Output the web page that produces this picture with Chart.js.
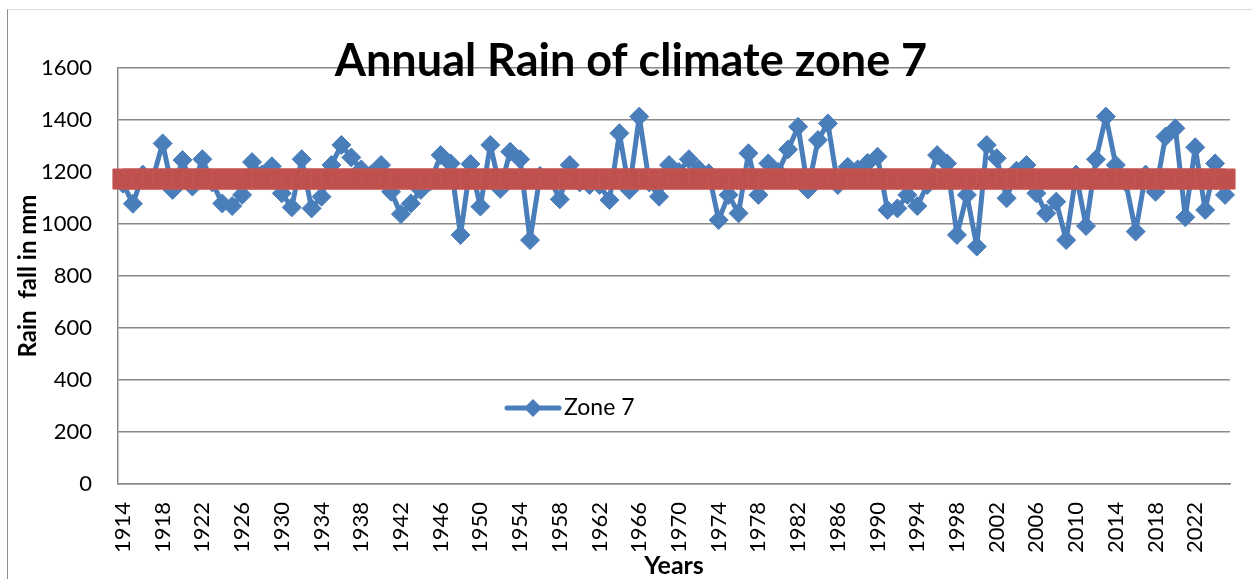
<!DOCTYPE html>
<html>
<head>
<meta charset="utf-8">
<title>Annual Rain of climate zone 7</title>
<script src="https://cdn.jsdelivr.net/npm/chart.js@4.4.1/dist/chart.umd.min.js"></script>
<style>
  html, body { margin: 0; padding: 0; background: #fff; }
  #wrap { position: relative; width: 1252px; height: 579px; overflow: hidden; }
  #frame { position: absolute; left: 7px; top: 9px; right: -2px; bottom: -2px;
           border-left: 1px solid #8c8c8c; border-top: 1px solid #dcdcdc; pointer-events: none; }
  canvas { position: absolute; left: 0; top: 0; }
</style>
</head>
<body>
<div id="wrap">
  <canvas id="rainChart" width="1252" height="579"></canvas>
  <div id="frame"></div>
</div>
<script>
// --- Data ---
const years = [
  '1914','1915','1916','1917','1918','1919','1920','1921','1922','1923',
  '1924','1925','1926','1927','1928','1929','1930','1931','1932','1933',
  '1934','1935','1936','1937','1938','1939','1940','1941','1942','1943',
  '1944','1945','1946','1947','1948','1949','1950','1951','1952','1953',
  '1954','1955','1956','1957','1958','1959','1960','1961','1962','1963',
  '1964','1965','1966','1967','1968','1969','1970','1971','1972','1973',
  '1974','1975','1976','1977','1978','1979','1980','1981','1982','1983',
  '1984','1985','1986','1987','1988','1989','1990','1991','1992','1993',
  '1994','1995','1996','1997','1998','1999','2000','2001','2002','2003',
  '2004','2005','2006','2007','2008','2009','2010','2011','2012','2013',
  '2014','2015','2016','2017','2018','2019','2020','2021','2022','2023',
  '2024','2025'
];

const zone7Rain = [
  1155, 1078, 1190, 1175, 1310, 1131, 1246, 1144, 1249, 1160,
  1079, 1069, 1112, 1238, 1190, 1222, 1118, 1064, 1249, 1060,
  1105, 1227, 1304, 1256, 1210, 1190, 1227, 1124, 1038, 1079,
  1131, 1165, 1265, 1233,  958, 1231, 1067, 1304, 1135, 1278,
  1249,  938, 1185, 1175, 1095, 1227, 1160, 1150, 1150, 1092,
  1349, 1131, 1413, 1160, 1105, 1227, 1200, 1249, 1210, 1195,
  1015, 1112, 1041, 1272, 1112, 1233, 1200, 1287, 1374, 1133,
  1323, 1387, 1150, 1220, 1210, 1235, 1259, 1054, 1060, 1112,
  1069, 1150, 1265, 1233,  958, 1112,  913, 1304, 1253, 1099,
  1205, 1227, 1118, 1041, 1086,  938, 1190,  992, 1249, 1413,
  1227, 1160,  971, 1190, 1124, 1336, 1368, 1026, 1295, 1054,
  1233, 1112
];

// long-term average drawn as the thick red band
const meanRain = 1173;
const meanLine = years.map(() => meanRain);

const yTicks = { min: 0, max: 1600, step: 200 };

const BLUE = '#4A7EBB';
const RED = '#C0504D';
const GRID = '#898989';

// --- Text overlays: title, axis titles, inner legend ---
const overlay = {
  id: 'overlay',
  afterDraw(chart) {
    const ctx = chart.ctx;
    const area = chart.chartArea;
    ctx.save();
    ctx.fillStyle = '#000';

    // title
    ctx.font = 'bold 45px Lato';
    ctx.textAlign = 'center';
    ctx.textBaseline = 'alphabetic';
    ctx.fillText('Annual Rain of climate zone 7', 631, 76);

    // x axis title
    ctx.font = 'bold 25px Lato';
    ctx.fillText('Years', (area.left + area.right) / 2, 574);

    // y axis title
    ctx.save();
    ctx.translate(36, (area.top + area.bottom) / 2);
    ctx.rotate(-Math.PI / 2);
    ctx.font = 'bold 24px Lato';
    ctx.fillText('Rain  fall in mm', 0, 0);
    ctx.restore();

    // legend inside the plot
    const ly = 408;
    ctx.strokeStyle = BLUE;
    ctx.lineWidth = 5;
    ctx.lineCap = 'round';
    ctx.beginPath();
    ctx.moveTo(507, ly);
    ctx.lineTo(559, ly);
    ctx.stroke();
    ctx.fillStyle = BLUE;
    ctx.beginPath();
    ctx.moveTo(533 - 9, ly);
    ctx.lineTo(533, ly - 9);
    ctx.lineTo(533 + 9, ly);
    ctx.lineTo(533, ly + 9);
    ctx.closePath();
    ctx.fill();
    ctx.fillStyle = '#000';
    ctx.font = '23px Lato';
    ctx.textAlign = 'left';
    ctx.textBaseline = 'middle';
    ctx.fillText('Zone 7', 564, ly);

    ctx.restore();
  }
};

new Chart(document.getElementById('rainChart'), {
  type: 'line',
  data: {
    labels: years,
    datasets: [
      {
        label: 'Average',
        data: meanLine,
        borderColor: RED,
        borderWidth: 6,
        pointStyle: 'rect',
        pointRadius: 14.2,
        pointBackgroundColor: RED,
        pointBorderColor: '#C35654',
        pointBorderWidth: 1,
        tension: 0,
        clip: false,
        order: 0,
      },
      {
        label: 'Zone 7',
        data: zone7Rain,
        borderColor: BLUE,
        borderWidth: 5,
        borderJoinStyle: 'round',
        borderCapStyle: 'round',
        pointStyle: 'rectRot',
        pointRadius: 9.5,
        pointBackgroundColor: BLUE,
        pointBorderColor: BLUE,
        pointBorderWidth: 1,
        tension: 0,
        order: 1,
      },
    ],
  },
  options: {
    responsive: false,
    animation: false,
    devicePixelRatio: 1,
    layout: { padding: { top: 68, right: 22, bottom: 0, left: 0 } },
    plugins: {
      legend: { display: false },
      title: { display: false },
      tooltip: { enabled: false },
    },
    scales: {
      x: {
        type: 'category',
        offset: true,
        grid: { display: false, drawTicks: false },
        border: { display: true, color: GRID, width: 1.5 },
        ticks: {
          autoSkip: false,
          minRotation: 90,
          maxRotation: 90,
          padding: 18,
          color: '#000',
          font: { family: 'Lato', size: 22 },
          callback: (v, i) => (i % 4 === 0 ? years[i] : ''),
        },
        afterFit: s => {
          s.height = 95;
          s.paddingLeft = 0;
          s.paddingRight = 0;
        },
      },
      y: {
        min: yTicks.min,
        max: yTicks.max,
        grid: { color: GRID, lineWidth: 1.5, drawTicks: false },
        border: { display: true, color: GRID, width: 1.5 },
        ticks: {
          stepSize: yTicks.step,
          padding: 26,
          color: '#000',
          font: { family: 'Lato', size: 22 },
          callback: v => String(v),
        },
        afterFit: s => { s.width = 118; },
      },
    },
  },
  plugins: [overlay],
});
</script>
</body>
</html>
